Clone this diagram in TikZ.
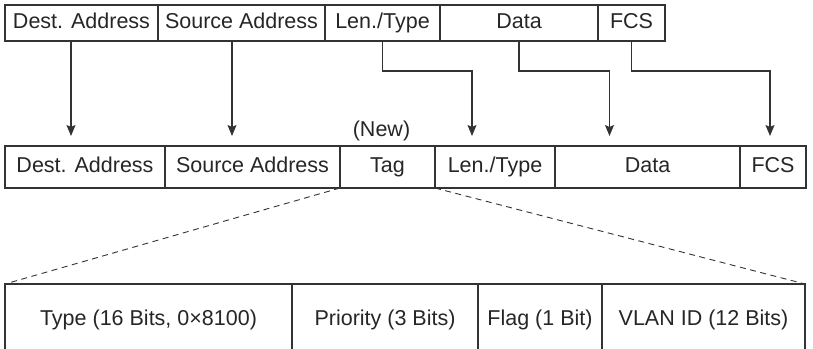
\documentclass[tikz,border=0pt]{standalone}
\usepackage{fontspec}
\setmainfont{Liberation Sans}
\usetikzlibrary{positioning,arrows.meta,calc}

\begin{document}
\begin{tikzpicture}[
    x=1pt, y=-1pt,
    font=\fontsize{21.5}{24}\selectfont,
    text=black!85,
    line/.style={-{Stealth[length=11pt,width=9pt,inset=2pt]}, line width=1.1pt, draw=black!80},
    tagline/.style={dash pattern=on 6pt off 4.5pt, line width=0.9pt, draw=black!80},
    field/.style={
        draw=black!80, line width=1.1pt,
        inner sep=0pt, outer sep=0pt,
        text height=15pt, text depth=4pt,
        align=center
    },
    oldf/.style={field, minimum height=36pt},
    newf/.style={field, minimum height=42pt},
    tagf/.style={field, minimum height=72pt}
]
\useasboundingbox (0,0) rectangle (813,348);
\clip (0,0) rectangle (813,348);

% Original frame
\node[oldf, minimum width=153pt, anchor=north west] (odest) at (5,5) {Dest. Address};
\node[oldf, minimum width=167pt, right=0pt of odest] (osrc)  {Source Address};
\node[oldf, minimum width=115pt, right=0pt of osrc]  (olen)  {Len./Type};
\node[oldf, minimum width=158pt, right=0pt of olen]  (odata) {Data};
\node[oldf, minimum width=67pt,  right=0pt of odata] (ofcs)  {FCS};

% Tagged frame
\node[newf, minimum width=160pt, anchor=north west] (ndest) at (5,146) {Dest. Address};
\node[newf, minimum width=175pt, right=0pt of ndest] (nsrc)  {Source Address};
\node[newf, minimum width=95pt,  right=0pt of nsrc]  (ntag)  {Tag};
\node[newf, minimum width=120pt, right=0pt of ntag]  (nlen)  {Len./Type};
\node[newf, minimum width=185pt, right=0pt of nlen]  (ndata) {Data};
\node[newf, minimum width=66pt,  right=0pt of ndata] (nfcs)  {FCS};

\node[inner sep=0pt, above=5pt of ntag, xshift=-6pt] (new) {(New)};

% Tag fields
\node[tagf, minimum width=287pt, anchor=north west] (ttype) at (5,284) {Type (16 Bits, 0×8100)};
\node[tagf, minimum width=186pt, right=0pt of ttype] (tprio) {Priority (3 Bits)};
\node[tagf, minimum width=124pt, right=0pt of tprio] (tflag) {Flag (1 Bit)};
\node[tagf, minimum width=203pt, right=0pt of tflag] (tvlan) {VLAN ID (12 Bits)};

% Arrows
\draw[line] ($(odest.south)+(-10.5,0)$) -- ($(ndest.north)+(-14,-10)$);
\draw[line] ($(osrc.south)+(-9.5,0)$) -- ($(nsrc.north)+(-20.5,-10)$);
\draw[line] (olen.south) -- ++(0,30) -| ($(nlen.north)+(-23,-10)$);
\draw[line] (odata.south) -- ++(0,30) -| ($(ndata.north)+(-38,-10)$);
\draw[line] (ofcs.south) -- ++(0,30) -| ($(nfcs.north)+(-3,-10)$);

% Tag expansion
\draw[tagline] (ntag.south west) -- (ttype.north west);
\draw[tagline] (ntag.south east) -- (tvlan.north east);

\end{tikzpicture}
\end{document}
